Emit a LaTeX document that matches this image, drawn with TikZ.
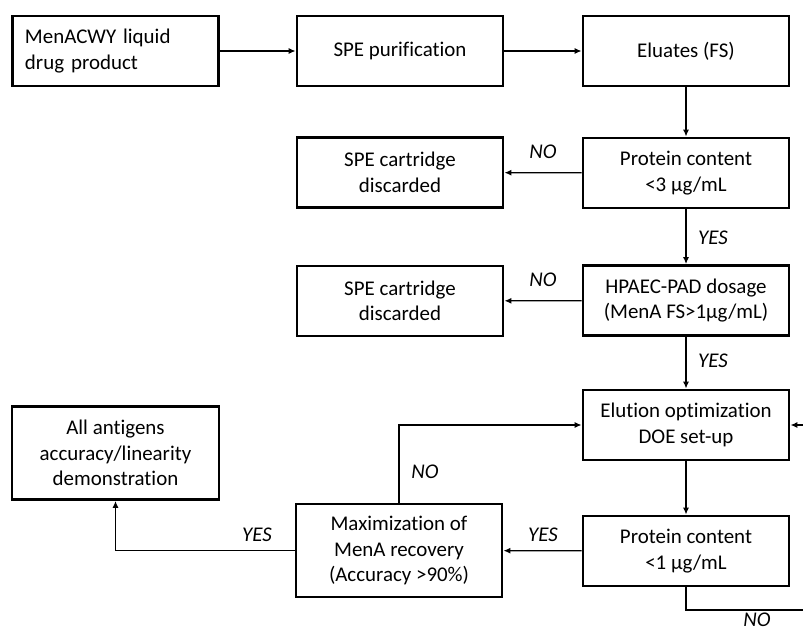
\documentclass[tikz,border=0pt]{standalone}
\usepackage{fontspec}
\setmainfont[Ligatures=NoCommon]{Carlito}
\usepackage{tikz}
\usetikzlibrary{arrows.meta,positioning,calc}
\tikzset{
  box/.style={rectangle, draw, line width=2.8bp, minimum width=206bp, minimum height=70bp, align=center, inner sep=2bp, font=\fontsize{21}{25.5}\selectfont},
  tallbox/.style={box, minimum height=93bp},
  leftbox/.style={box, align=left, text width=181bp, inner xsep=12.5bp},
  arrow/.style={-{Latex[length=7bp,width=6bp]}, line width=1.3bp},
  lbl/.style={font=\fontsize{21}{25.5}\selectfont\itshape, inner sep=0pt},
}

\begin{document}
\begin{tikzpicture}[x=1bp, y=-1bp]
  \path[use as bounding box, clip] (0,0) rectangle (803,633);

  % top row
  \node[leftbox] (drug) at (115.5,51) {MenACWY liquid\\drug product};
  \node[box] (spe) at (400,51) {SPE purification};
  \node[box] (eluates) at (686,51) {Eluates (FS)};

  % checks
  \node[box] (prot1) at (686,173) {Protein content\\<3 µg/mL};
  \node[box] (disc1) at (400,172.5) {SPE cartridge\\discarded};
  \node[box] (hpaec) at (686,300.5) {HPAEC-PAD dosage\\(MenA FS>1µg/mL)};
  \node[box] (disc2) at (400,301) {SPE cartridge\\discarded};

  % optimization loop
  \node[box] (elution) at (686,425) {Elution optimization\\DOE set-up};
  \node[box] (prot2) at (686,551) {Protein content\\<1 µg/mL};
  \node[tallbox] (maxim) at (399,550.5) {Maximization of\\MenA recovery\\(Accuracy >90\%)};
  \node[tallbox, minimum width=207bp] (antigens) at (115.5,453) {All antigens\\accuracy/linearity\\demonstration};

  \coordinate (loopbot) at (686,610);
  \coordinate (loopright) at (825,610);

  % connectors
  \draw[arrow] (drug) -- (spe);
  \draw[arrow] (spe) -- (eluates);
  \draw[arrow] (eluates) -- (prot1);
  \draw[arrow] (prot1) -- (disc1);
  \draw[arrow] (prot1) -- (hpaec);
  \draw[arrow] (hpaec) -- (disc2);
  \draw[arrow] (hpaec) -- (elution);
  \draw[arrow] (elution) -- (prot2);
  \draw[arrow] (prot2) -- (maxim);
  \draw[arrow] (maxim.west) -| (antigens.south);
  \draw[arrow] (maxim.north) |- (elution.west);
  \draw[arrow] (prot2.south) -- (loopbot) -- (loopright) |- (elution.east);

  % labels
  \node[lbl] (no1) at (543,152) {NO};
  \node[lbl] (yes1) at (713,238) {YES};
  \node[lbl] (no2) at (543,280) {NO};
  \node[lbl] (yes2) at (713,361) {YES};
  \node[lbl] (no3) at (425,472) {NO};
  \node[lbl] (yes3) at (543,535) {YES};
  \node[lbl] (yes4) at (257,535) {YES};
  \node[lbl] (no4) at (757,620) {NO};

\end{tikzpicture}
\end{document}
